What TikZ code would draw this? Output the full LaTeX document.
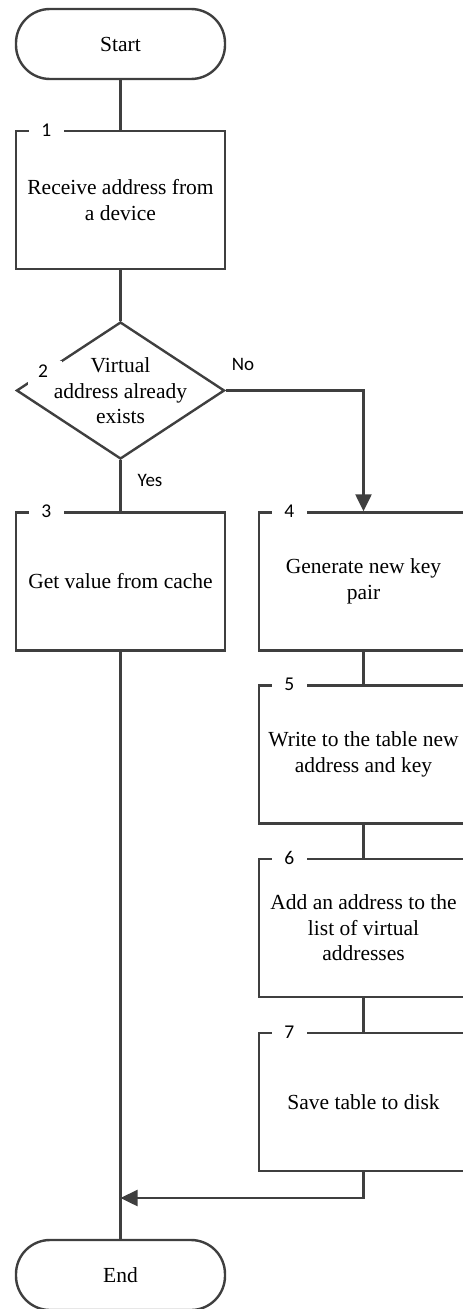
\documentclass[tikz,border=0pt]{standalone}
\usepackage{fontspec}
\setmainfont{Liberation Serif}
\newfontfamily\labfont{Carlito}
\usetikzlibrary{arrows.meta,shapes.geometric}
\definecolor{linec}{HTML}{3F3F3F}
\tikzset{
  x=1pt, y=-1pt,
  every node/.style={font=\fontsize{21.5}{25.5}\selectfont},
  term/.style={draw=linec, line width=2.4pt, rectangle, rounded corners=34pt, minimum width=209pt, minimum height=70pt, inner sep=0pt},
  procbox/.style={draw=linec, line width=2.4pt, rectangle, minimum width=209pt, minimum height=138pt, inner sep=0pt, align=center},
  decbox/.style={draw=linec, line width=2.4pt, diamond, minimum width=208pt, minimum height=137pt, inner sep=0pt, aspect=1.52},
  numlab/.style={fill=white, inner sep=0pt, minimum width=35pt, minimum height=12pt, font=\labfont\fontsize{19.5}{21}\selectfont},
  sidelab/.style={inner sep=0pt, font=\labfont\fontsize{19}{21}\selectfont},
  conn/.style={draw=linec, line width=2.4pt},
  arr/.style={conn, -{Triangle[length=17pt, width=16pt]}}
}
\begin{document}
\begin{tikzpicture}
\useasboundingbox (0,0) rectangle (463,1309);
\clip (0,0) rectangle (463,1309);
% nodes
\node[term] (start) at (120.5,44) {Start};
\node[procbox] (b1) at (120.5,200) {Receive address from\\a device};
\node[decbox] (d2) at (120.5,390.5) {};
\node[align=center, inner sep=0pt] (d2t) at (120.5,391) {Virtual\\address already\\exists};
\node[procbox] (b3) at (120.5,581.5) {Get value from cache};
\node[procbox] (b4) at (363.5,581.5) {Generate new key\\pair};
\node[procbox] (b5) at (363.5,754.5) {Write to the table new\\address and key};
\node[procbox] (b6) at (363.5,928) {Add an address to the\\list of virtual\\addresses};
\node[procbox] (b7) at (363.5,1102) {Save table to disk};
\node[term] (end) at (120.5,1275) {End};
\coordinate (m) at (120.5,1198);
% connectors
\draw[conn] (start.south) -- (b1.north);
\draw[conn] (b1.south) -- (d2.north);
\draw[arr] (d2.east) -| (b4.north);
\draw[conn] (d2.south) -- (b3.north);
\draw[conn] (b4.south) -- (b5.north);
\draw[conn] (b5.south) -- (b6.north);
\draw[conn] (b6.south) -- (b7.north);
\draw[conn] (b3.south) -- (end.north);
\draw[arr] (b7.south) |- (m);
% number labels
\node[numlab] (l1) at ([xshift=31.5pt]b1.north west) {1};
\node[fill=white, inner sep=0pt, minimum width=34pt, minimum height=24pt, font=\labfont\fontsize{19.5}{21}\selectfont] (l2) at (45,373) {\raisebox{3pt}{\hspace{-4pt}2}};
\node[numlab] (l3) at ([xshift=31.5pt]b3.north west) {3};
\node[numlab] (l4) at ([xshift=31.5pt]b4.north west) {4};
\node[numlab] (l5) at ([xshift=31.5pt]b5.north west) {5};
\node[numlab] (l6) at ([xshift=31.5pt]b6.north west) {6};
\node[numlab] (l7) at ([xshift=31.5pt]b7.north west) {7};
\node[sidelab] (no) at (243,364) {No};
\node[sidelab] (yes) at (150,480) {Yes};
\end{tikzpicture}
\end{document}
